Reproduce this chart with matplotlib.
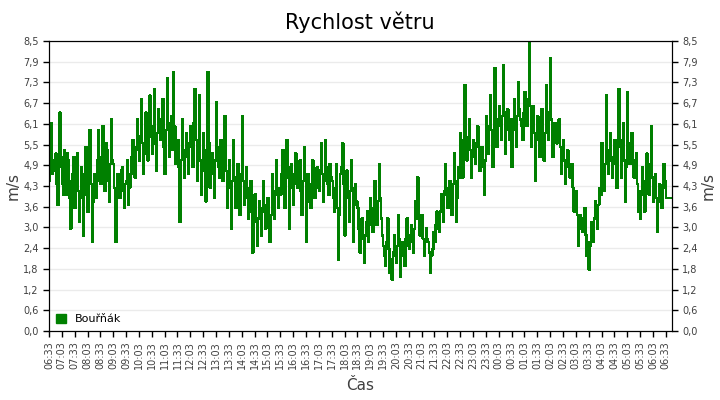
import matplotlib
matplotlib.use("Agg")
import matplotlib.pyplot as plt
from matplotlib.patches import Patch

# wind speed, m/s, one value every 2.5 minutes starting 06:33 (one row per hour)
speed = [
    4.4, 4.9, 6.1, 4.6, 4.7, 5.0, 5.2, 4.3, 3.7, 4.8, 6.4, 5.1, 4.3, 4.0, 5.3, 4.5, 4.0, 5.2, 5.0, 3.9, 3.0, 4.4, 4.6, 5.1,
    3.6, 4.5, 5.2, 4.1, 3.2, 3.9, 4.8, 4.6, 2.8, 4.2, 5.4, 4.0, 3.5, 4.7, 5.9, 4.3, 2.6, 3.8, 4.6, 4.1, 3.9, 5.0, 5.9, 4.4,
    4.3, 5.1, 6.0, 4.7, 4.1, 5.5, 5.3, 4.4, 3.8, 4.9, 6.2, 5.0, 4.9, 4.2, 2.6, 4.0, 4.6, 4.4, 3.9, 4.7, 4.8, 4.1, 3.6, 4.3,
    4.4, 5.0, 3.7, 4.2, 4.6, 5.1, 5.6, 4.9, 4.5, 5.4, 6.2, 5.3, 5.0, 5.7, 6.8, 5.5, 4.6, 5.2, 6.4, 5.6, 5.0, 5.8, 6.9, 5.7,
    5.2, 6.0, 7.1, 5.5, 4.7, 5.8, 6.5, 5.9, 5.6, 6.2, 6.8, 5.4, 4.6, 5.9, 7.4, 6.1, 5.1, 5.7, 6.3, 5.3, 7.6, 6.0, 4.9, 5.5,
    5.6, 4.8, 3.2, 5.0, 6.2, 5.3, 4.5, 5.1, 5.8, 5.2, 4.6, 5.5, 6.0, 5.4, 4.8, 6.1, 7.1, 5.6, 4.4, 5.2, 6.9, 5.0, 4.0, 4.7,
    5.8, 4.9, 3.8, 5.3, 7.6, 5.5, 4.2, 4.8, 5.2, 4.6, 3.9, 5.0, 6.7, 5.4, 4.8, 4.5, 5.6, 5.1, 4.4, 4.9, 6.3, 4.7, 3.6, 4.4,
    5.0, 4.2, 3.0, 4.4, 5.6, 4.5, 3.6, 4.1, 4.9, 4.3, 3.4, 4.6, 6.3, 4.4, 3.7, 4.0, 4.8, 3.9, 3.3, 4.2, 4.4, 3.5, 2.3, 3.4,
    4.0, 3.2, 2.5, 3.3, 3.8, 3.4, 2.8, 3.6, 4.4, 3.5, 3.0, 3.7, 3.9, 3.1, 2.6, 3.4, 4.6, 3.8, 3.3, 4.1, 5.0, 4.0, 3.6, 4.2,
    4.0, 4.6, 5.3, 4.4, 3.6, 4.5, 5.6, 4.8, 3.0, 4.2, 4.9, 4.5, 3.7, 4.6, 5.2, 4.3, 4.2, 4.7, 5.0, 4.1, 3.4, 4.4, 5.4, 4.6,
    2.6, 3.8, 4.6, 4.0, 3.6, 4.3, 5.0, 4.4, 3.9, 4.5, 4.8, 4.2, 4.1, 4.7, 5.5, 4.6, 3.8, 4.4, 5.6, 4.8, 4.3, 4.0, 4.9, 4.5,
    4.4, 3.9, 3.5, 4.2, 4.9, 3.6, 2.1, 3.4, 4.6, 4.8, 5.5, 4.3, 2.8, 3.9, 4.7, 4.0, 3.2, 4.1, 5.0, 4.2, 2.6, 3.7, 4.3, 3.8,
    3.6, 3.0, 2.3, 2.9, 3.3, 2.7, 2.0, 2.8, 3.2, 3.5, 2.6, 3.1, 3.9, 3.3, 2.9, 3.6, 4.4, 3.7, 3.1, 3.8, 4.9, 3.9, 3.3, 2.8,
    2.5, 2.2, 1.9, 2.6, 3.3, 2.4, 1.7, 2.1, 1.5, 2.3, 2.8, 2.2, 2.0, 2.5, 3.4, 2.7, 1.6, 2.2, 2.6, 2.3, 1.9, 2.7, 3.3, 2.5,
    2.4, 2.8, 3.1, 2.6, 2.3, 3.0, 3.8, 3.3, 4.5, 3.4, 2.8, 3.1, 3.4, 2.7, 2.2, 2.6, 3.0, 2.7, 2.6, 2.3, 1.7, 2.2, 2.4, 2.9,
    2.6, 3.1, 3.5, 3.0, 2.9, 3.5, 4.0, 3.6, 3.2, 4.1, 4.9, 4.0, 3.6, 4.2, 4.4, 3.9, 3.4, 4.3, 5.2, 4.4, 3.2, 3.9, 4.8, 4.5,
    5.8, 5.0, 4.5, 5.6, 7.2, 5.7, 5.0, 5.4, 6.2, 5.3, 4.5, 5.1, 5.6, 5.2, 4.9, 5.5, 6.0, 5.4, 4.7, 5.3, 5.4, 4.8, 4.0, 5.0,
    6.3, 5.8, 5.2, 6.0, 6.9, 5.9, 4.8, 5.7, 7.7, 6.2, 5.4, 6.1, 6.6, 6.0, 5.6, 6.3, 7.8, 6.4, 5.2, 5.9, 6.5, 6.1, 5.6, 6.2,
    4.8, 5.9, 6.8, 6.0, 5.4, 6.3, 7.3, 6.5, 6.2, 6.0, 5.6, 6.4, 7.0, 6.3, 6.0, 6.8, 8.5, 6.6, 5.4, 6.1, 6.6, 5.8, 4.4, 5.6,
    6.3, 5.7, 5.1, 5.9, 6.5, 5.6, 5.0, 5.8, 7.2, 6.0, 5.6, 6.4, 8.0, 6.2, 5.1, 5.7, 6.1, 5.8, 5.5, 5.9, 6.2, 5.4, 4.6, 5.3,
    5.6, 5.0, 4.3, 4.9, 5.3, 4.8, 4.5, 4.7, 4.9, 4.2, 3.5, 3.9, 4.1, 3.4, 2.5, 3.1, 3.4, 3.0, 2.9, 3.3, 3.6, 2.8, 2.2, 2.6,
    1.8, 2.5, 3.2, 2.9, 2.6, 3.3, 3.8, 3.4, 3.0, 3.7, 4.2, 4.0, 5.5, 4.6, 4.1, 4.9, 6.9, 5.3, 4.6, 5.0, 5.8, 5.1, 4.5, 5.0,
    5.6, 4.9, 4.2, 5.4, 7.1, 5.6, 4.5, 5.2, 6.1, 5.0, 3.8, 4.8, 7.0, 5.5, 4.9, 5.3, 5.8, 5.0, 4.5, 4.9, 5.2, 4.3, 3.5, 4.1,
    3.3, 4.0, 4.8, 4.2, 3.5, 4.4, 5.2, 4.6, 4.0, 4.9, 6.0, 4.5, 3.8, 4.2, 4.6, 3.9, 2.9, 3.8, 4.3, 4.0, 3.6, 4.2, 4.9, 4.4,
    3.9, 3.9, 3.9, 3.9, 3.9,
]
step_min = 2.5
minutes = [i * step_min for i in range(len(speed))]

y_ticks = [0.0, 0.607, 1.214, 1.821, 2.429, 3.036, 3.643, 4.25,
           4.857, 5.464, 6.071, 6.679, 7.286, 7.893, 8.5]
y_labels = ["0,0", "0,6", "1,2", "1,8", "2,4", "3,0", "3,6", "4,3",
            "4,9", "5,5", "6,1", "6,7", "7,3", "7,9", "8,5"]

x_ticks = list(range(0, 1441, 30))
x_labels = ["%02d:%02d" % (((6 * 60 + 33 + m) // 60) % 24, (6 * 60 + 33 + m) % 60)
            for m in x_ticks]

green = "#008000"
txt = "#404040"

fig = plt.figure(figsize=(7.2, 4.0), dpi=100)
ax = fig.add_axes([0.068, 0.1725, 0.865, 0.725])

ax.plot(minutes + [1454], speed + [speed[-1]], drawstyle="steps-post",
        color=green, lw=1.0, antialiased=False)

ax.set_xlim(0, 1454)
ax.set_ylim(0, 8.5)
ax.set_yticks(y_ticks)
ax.set_yticklabels(y_labels)
ax.set_xticks(x_ticks)
ax.set_xticklabels(x_labels, rotation=90)
ax.grid(axis="y", color="#ebebeb", lw=1)
ax.set_axisbelow(True)
ax.tick_params(axis="both", labelsize=7, labelcolor=txt, length=4, width=1)

ax2 = ax.twinx()
ax2.set_ylim(0, 8.5)
ax2.set_yticks(y_ticks)
ax2.set_yticklabels(y_labels)
ax2.tick_params(axis="y", labelsize=7, labelcolor=txt, length=4, width=1)
ax2.set_ylabel("m/s", fontsize=11, color=txt, labelpad=2)

ax.set_ylabel("m/s", fontsize=11, color=txt, labelpad=2)
ax.set_xlabel("Čas", fontsize=11, color=txt, labelpad=6)
fig.text(0.5, 0.945, "Rychlost větru", ha="center", va="center", fontsize=15)

ax.legend(handles=[Patch(color=green, label="Bouřňák")], loc="lower left",
          frameon=False, fontsize=8, handlelength=0.9, handleheight=0.9,
          handletextpad=0.8, borderaxespad=0.2)

fig.savefig("out.png", dpi=100)
